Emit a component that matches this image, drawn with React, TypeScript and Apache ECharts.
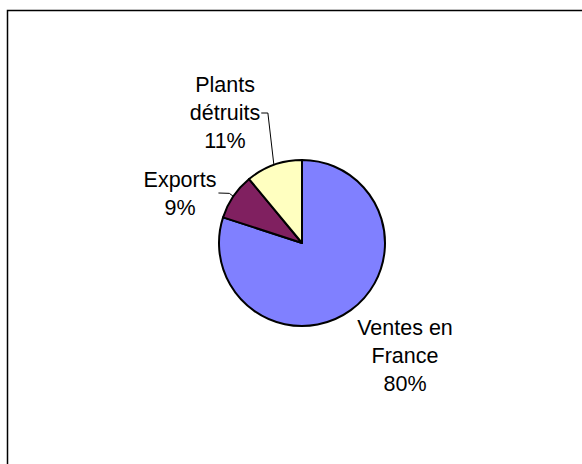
import React, { useEffect, useRef } from "react";
import * as echarts from "echarts";

const categories = ["Ventes en\nFrance", "Exports", "Plants\ndétruits"];
const values = [80, 9, 11];
const colors = ["#8080FF", "#802060", "#FFFFC0"];

const labelPos = [
  { x: 405, y: 356 },
  { x: 180, y: 194 },
  { x: 225, y: 113 },
];

export default function App() {
  const ref = useRef<HTMLDivElement>(null);
  useEffect(() => {
    if (!ref.current) return;
    const chart = echarts.init(ref.current, null, { renderer: "svg" });
    chart.setOption({
      animation: false,
      backgroundColor: "#ffffff",
      graphic: [
        {
          type: "rect",
          shape: { x: 7.5, y: 10.5, width: 620, height: 500 },
          style: { fill: "none", stroke: "#000", lineWidth: 1.5 },
          silent: true,
        },
      ],
      series: [
        {
          type: "pie",
          center: [302, 243],
          radius: 83,
          startAngle: 90,
          clockwise: true,
          itemStyle: { borderColor: "#000", borderWidth: 2 },
          label: {
            show: true,
            formatter: "{b}\n{d}%",
            fontFamily: "Liberation Sans, Arial, sans-serif",
            fontSize: 21.5,
            lineHeight: 28,
            color: "#000",
            align: "center",
          },
          labelLine: {
            show: true,
            length: 12,
            length2: 6,
            lineStyle: { color: "#000", width: 1 },
          },
          labelLayout: (params: any) => {
            const i = params.dataIndex;
            const p = labelPos[i];
            const out: any = { x: p.x, y: p.y, align: "center", verticalAlign: "middle" };
            const pts = params.labelLinePoints;
            const w = params.labelRect ? params.labelRect.width : 0;
            if (pts && pts[0]) {
              const a = pts[0];
              if (i === 2) {
                out.labelLinePoints = [
                  [a[0], a[1]],
                  [a[0] - 6, p.y],
                  [p.x + w / 2 + 1, p.y],
                ];
              } else if (i === 1) {
                out.labelLinePoints = [
                  [a[0], a[1]],
                  [a[0] - 4, a[1] - 3],
                  [p.x + w / 2 + 2, p.y - 1],
                ];
              }
            }
            return out;
          },
          emphasis: { disabled: true },
          data: categories.map((name, i) => ({
            name,
            value: values[i],
            itemStyle: { color: colors[i] },
            labelLine: { show: i !== 0 },
          })),
        },
      ],
    });
    return () => chart.dispose();
  }, []);
  return (
    <div
      ref={ref}
      style={{ position: "fixed", left: 0, top: 0, width: 582, height: 464 }}
    />
  );
}
